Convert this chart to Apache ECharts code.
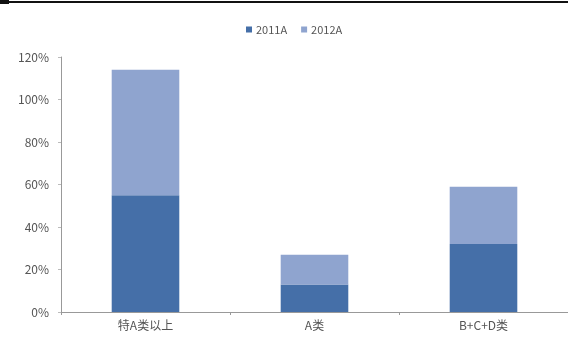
<!DOCTYPE html>
<html>
<head>
<meta charset="utf-8">
<script src="https://cdn.jsdelivr.net/npm/echarts@6/dist/echarts.min.js"></script>
<style>
  html, body { margin: 0; padding: 0; background: #fff; }
  #chart { width: 568px; height: 338px; }
</style>
</head>
<body>
<div id="chart"></div>
<script>
// Categories and stacked shares (percent)
const categories = ['特A类以上', 'A类', 'B+C+D类'];
const seriesNames = ['2011A', '2012A'];
const values2011 = [55, 13, 32];
const values2012 = [59, 14, 27];
const yTicks = [0, 20, 40, 60, 80, 100, 120];

const chart = echarts.init(document.getElementById('chart'));

chart.setOption({
  animation: false,
  textStyle: { fontFamily: 'Noto Sans CJK SC, Noto Sans, sans-serif' },
  graphic: [
    { type: 'rect', shape: { x: 0, y: 1, width: 568, height: 2 }, style: { fill: '#111' } },
    { type: 'rect', shape: { x: 0, y: 0, width: 9, height: 4 }, style: { fill: '#111' } }
  ],
  legend: {
    data: seriesNames,
    top: 19,
    left: 241,
    itemWidth: 6,
    itemHeight: 6,
    itemGap: 14,
    icon: 'rect',
    textStyle: { fontSize: 11, color: '#555', padding: [0, 0, 0, -1] }
  },
  grid: { left: 61, right: 0, top: 57, bottom: 26, containLabel: false },
  xAxis: {
    type: 'category',
    data: categories,
    axisLine: { lineStyle: { color: '#999' } },
    axisTick: { show: true, length: 3, lineStyle: { color: '#999' } },
    axisLabel: { fontSize: 12, color: '#555', margin: 7 }
  },
  yAxis: {
    type: 'value',
    min: yTicks[0],
    max: yTicks[yTicks.length - 1],
    interval: 20,
    axisLine: { show: true, lineStyle: { color: '#999' } },
    axisTick: { show: true, length: 3, lineStyle: { color: '#bbb' } },
    splitLine: { show: false },
    axisLabel: { fontSize: 12, color: '#555', margin: 12, formatter: v => v + '%' }
  },
  series: [
    {
      name: seriesNames[0],
      type: 'bar',
      stack: 'total',
      barWidth: '40%',
      data: values2011,
      itemStyle: { color: '#456fa8' }
    },
    {
      name: seriesNames[1],
      type: 'bar',
      stack: 'total',
      barWidth: '40%',
      data: values2012,
      itemStyle: { color: '#8fa4cf' }
    }
  ]
});
</script>
</body>
</html>
